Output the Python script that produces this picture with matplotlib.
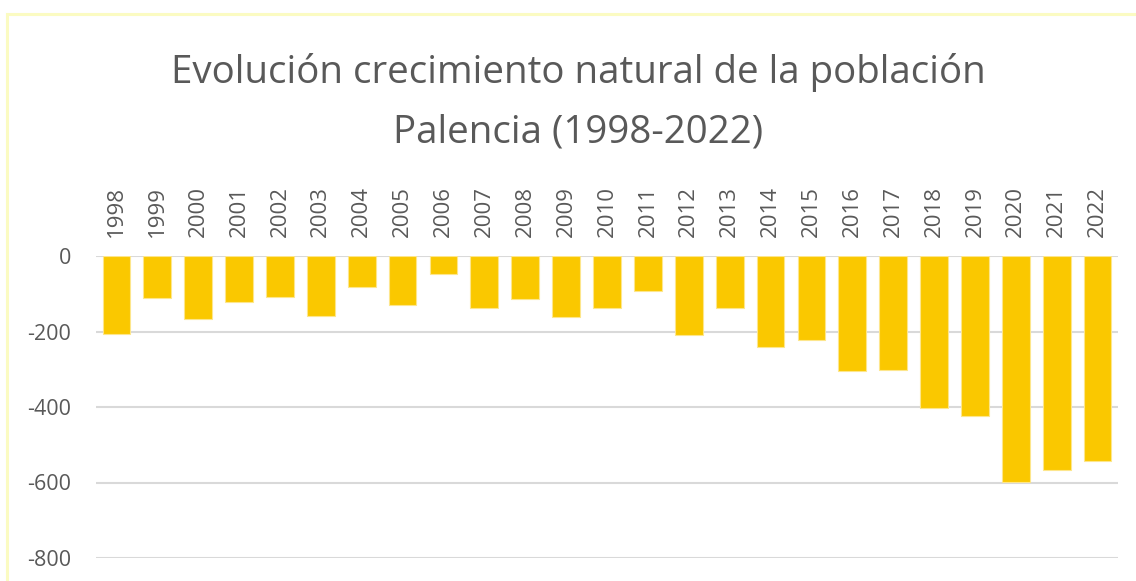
import matplotlib
matplotlib.use("Agg")
import matplotlib.pyplot as plt
from matplotlib.patches import Rectangle

years = [str(y) for y in range(1998, 2023)]
values = [-206, -110, -167, -121, -109, -159, -83, -131, -47, -139, -115, -161,
          -138, -92, -209, -138, -242, -223, -304, -302, -402, -423, -599, -566, -542]
yticks = [0, -200, -400, -600, -800]

title1 = "Evolución crecimiento natural de la población"
title2 = "Palencia (1998-2022)"

plt.rcParams['font.family'] = ['Open Sans', 'DejaVu Sans']
txt = '#595959'
bar_col = '#FAC800'

fig = plt.figure(figsize=(11.36, 5.81), dpi=100)
fig.patches.append(Rectangle((7/1136, -0.1), 1.2, 1 - 14/581 + 0.1, transform=fig.transFigure,
                             fill=False, edgecolor='#FBFBC2', linewidth=2.2))

ax = fig.add_axes([96/1136, 1 - 558/581, (1118 - 96)/1136, (558 - 256)/581])
x = list(range(len(years)))
ax.bar(x, values, width=0.68, color=bar_col, edgecolor='#FDE68C', linewidth=0.8, zorder=3)
ax.set_xlim(-0.5, len(years) - 0.5)
ax.set_ylim(-800, 0)
ax.set_yticks(yticks)
ax.set_yticklabels([str(v) for v in yticks], fontsize=15.5, color=txt)
ax.grid(axis='y', color='#D9D9D9', linewidth=1.5, zorder=0)
ax.set_axisbelow(True)
for s in ax.spines.values():
    s.set_visible(False)
ax.tick_params(axis='y', length=0, pad=18)
ax.xaxis.tick_top()
ax.set_xticks(x)
ax.set_xticklabels(years, rotation=90, fontsize=16, color=txt)
ax.tick_params(axis='x', length=0, pad=14)

fig.text(578/1136, 1 - 72/581, title1, ha='center', va='center', fontsize=27.7, color=txt)
fig.text(578/1136, 1 - 132/581, title2, ha='center', va='center', fontsize=27.7, color=txt)

fig.savefig('out.png', dpi=100)
